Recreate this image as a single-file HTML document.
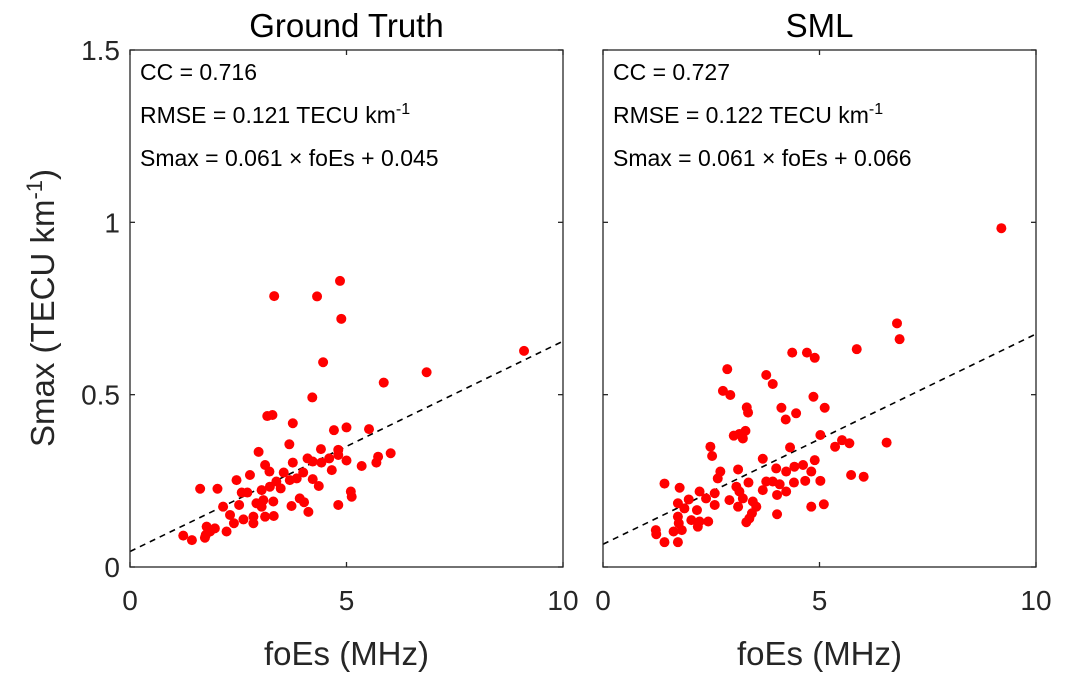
<!DOCTYPE html>
<html><head><meta charset="utf-8"><style>
body{margin:0;background:#fff;width:1068px;height:684px;overflow:hidden}
svg{font-family:"Liberation Sans",Arial,sans-serif}
</style></head><body>
<svg id="chart" width="1068" height="684" viewBox="0 0 1068 684"></svg>
<script>
const gtX=[4.85,3.33,4.32,4.88,4.46,6.85,5.86,4.21,3.17,3.29,3.76,4.71,5.0,5.52,3.68,2.97,4.41,4.81,6.02,5.73,5.69,5.35,5.0,4.81,4.6,4.42,4.22,4.1,3.76,3.12,3.22,2.77,3.55,4.0,4.66,4.22,4.36,3.69,3.85,3.38,2.46,1.62,2.02,2.58,2.71,3.04,3.48,3.23,3.92,4.02,3.73,4.12,4.81,5.1,5.12,3.31,2.92,3.04,2.52,2.15,2.85,3.12,3.32,2.31,2.4,2.62,2.23,1.96,1.77,1.75,1.85,1.23,1.43,1.73,2.85,3.08,9.1];
const gtY=[0.83,0.786,0.785,0.72,0.594,0.565,0.535,0.492,0.438,0.441,0.417,0.397,0.405,0.40,0.356,0.334,0.342,0.34,0.33,0.32,0.303,0.293,0.309,0.325,0.315,0.303,0.306,0.315,0.303,0.296,0.277,0.267,0.274,0.274,0.281,0.255,0.235,0.252,0.257,0.248,0.252,0.227,0.227,0.216,0.216,0.223,0.228,0.233,0.199,0.188,0.177,0.16,0.18,0.219,0.204,0.19,0.185,0.175,0.18,0.175,0.146,0.146,0.148,0.151,0.127,0.138,0.103,0.112,0.117,0.093,0.103,0.091,0.078,0.085,0.127,0.194,0.627];
const smlX=[9.2,6.79,6.85,4.37,4.71,4.89,5.86,2.87,3.77,3.92,2.77,2.94,4.86,3.32,3.35,4.12,4.46,4.22,5.12,3.02,3.15,3.29,3.23,5.02,5.36,5.52,5.69,6.55,2.48,2.52,4.32,3.69,4.89,4.62,4.42,4.23,4.0,4.81,3.12,2.71,2.65,1.42,1.77,5.02,5.73,6.02,4.41,4.67,3.36,3.77,3.92,4.08,3.69,4.23,4.02,3.08,3.15,2.92,3.23,3.46,2.23,2.38,2.58,2.58,1.98,1.73,2.17,1.88,3.12,3.54,3.44,3.38,3.31,4.02,4.81,5.1,2.04,2.23,2.43,2.19,1.73,1.75,1.82,1.63,1.22,1.23,1.42,1.73];
const smlY=[0.983,0.707,0.661,0.622,0.622,0.607,0.632,0.574,0.557,0.531,0.511,0.499,0.494,0.463,0.448,0.462,0.446,0.428,0.462,0.381,0.386,0.395,0.373,0.383,0.349,0.368,0.359,0.361,0.349,0.322,0.347,0.314,0.31,0.296,0.291,0.277,0.286,0.277,0.283,0.277,0.257,0.242,0.23,0.25,0.267,0.262,0.245,0.25,0.245,0.248,0.248,0.24,0.223,0.219,0.209,0.233,0.219,0.194,0.199,0.19,0.219,0.199,0.214,0.18,0.196,0.185,0.165,0.17,0.175,0.175,0.156,0.141,0.13,0.153,0.175,0.182,0.136,0.132,0.132,0.117,0.146,0.127,0.107,0.103,0.107,0.095,0.072,0.072];
const xTicks=[0,5,10];
const yTicks=[0,0.5,1,1.5];
const yTickLabels=["0","0.5","1","1.5"];
const fits=[[0.061,0.045],[0.061,0.066]];
const titles=["Ground Truth","SML"];
const stats=[["CC = 0.716","RMSE = 0.121 TECU km","Smax = 0.061 × foEs + 0.045"],["CC = 0.727","RMSE = 0.122 TECU km","Smax = 0.061 × foEs + 0.066"]];

const svg=document.getElementById('chart');
const NS='http://www.w3.org/2000/svg';
function mk(tag,attrs,parent){const e=document.createElementNS(NS,tag);for(const k in attrs)e.setAttribute(k,attrs[k]);(parent||svg).appendChild(e);return e;}
const axTop=50,axBot=567;
const lefts=[130,603],W=433;
const yS=v=>axBot-(v/1.5)*(axBot-axTop);
const data=[[gtX,gtY],[smlX,smlY]];
for(let p=0;p<2;p++){
  const L=lefts[p];const xS=v=>L+v/10*W;
  const g=mk('g',{});
  
  
  const [a,b]=fits[p];
  const ln=mk('line',{x1:xS(0),y1:yS(b),x2:xS(10),y2:yS(a*10+b),stroke:'#000','stroke-width':1.6,'stroke-dasharray':'6,5'},g);
  
  
  const [xs,ys]=data[p];
  for(let i=0;i<xs.length;i++){
    const c=mk('circle',{cx:xS(xs[i]),cy:yS(ys[i]),r:5,fill:'#ff0000'},g);
    
    
  }
  const box=mk('rect',{x:L,y:axTop,width:W,height:axBot-axTop,fill:'none',stroke:'#262626','stroke-width':1.3},g);
  
  
  xTicks.forEach(t=>{
    mk('line',{x1:xS(t),x2:xS(t),y1:axBot,y2:axBot-5,stroke:'#262626','stroke-width':1.3},g);
    mk('line',{x1:xS(t),x2:xS(t),y1:axTop,y2:axTop+5,stroke:'#262626','stroke-width':1.3},g);
    const tx=mk('text',{x:xS(t),y:axBot+43,'text-anchor':'middle','font-size':28,fill:'#262626'},g);
    tx.textContent=t;
    
    
  });
  yTicks.forEach((t,i)=>{
    mk('line',{x1:L,x2:L+5,y1:yS(t),y2:yS(t),stroke:'#262626','stroke-width':1.3},g);
    mk('line',{x1:L+W,x2:L+W-5,y1:yS(t),y2:yS(t),stroke:'#262626','stroke-width':1.3},g);
    if(p===0){
      const ty=mk('text',{x:L-10,y:yS(t)+10,'text-anchor':'end','font-size':28,fill:'#262626'},g);
      ty.textContent=yTickLabels[i];
      
      
    }
  });
  const ti=mk('text',{x:L+W/2,y:37,'text-anchor':'middle','font-size':33,fill:'#000'},g);
  ti.textContent=titles[p];
  
  
  const xl=mk('text',{x:L+W/2,y:665,'text-anchor':'middle','font-size':33,fill:'#262626'},g);
  xl.textContent='foEs (MHz)';
  
  
  const ys2=[80,123,166];
  stats[p].forEach((s,i)=>{
    const t=mk('text',{x:L+10,y:ys2[i],'font-size':23,fill:'#000'},g);
    t.textContent=s;
    if(i===1){const sp=mk('tspan',{dy:-9,'font-size':16},t);sp.textContent='-1';}
    
    
  });
}
const yl=mk('text',{transform:'translate(54,308) rotate(-90)','text-anchor':'middle','font-size':33,fill:'#262626'});
yl.innerHTML='Smax (TECU km<tspan dy="-12" font-size="22">-1</tspan><tspan dy="12">)</tspan>';


</script>
</body></html>
